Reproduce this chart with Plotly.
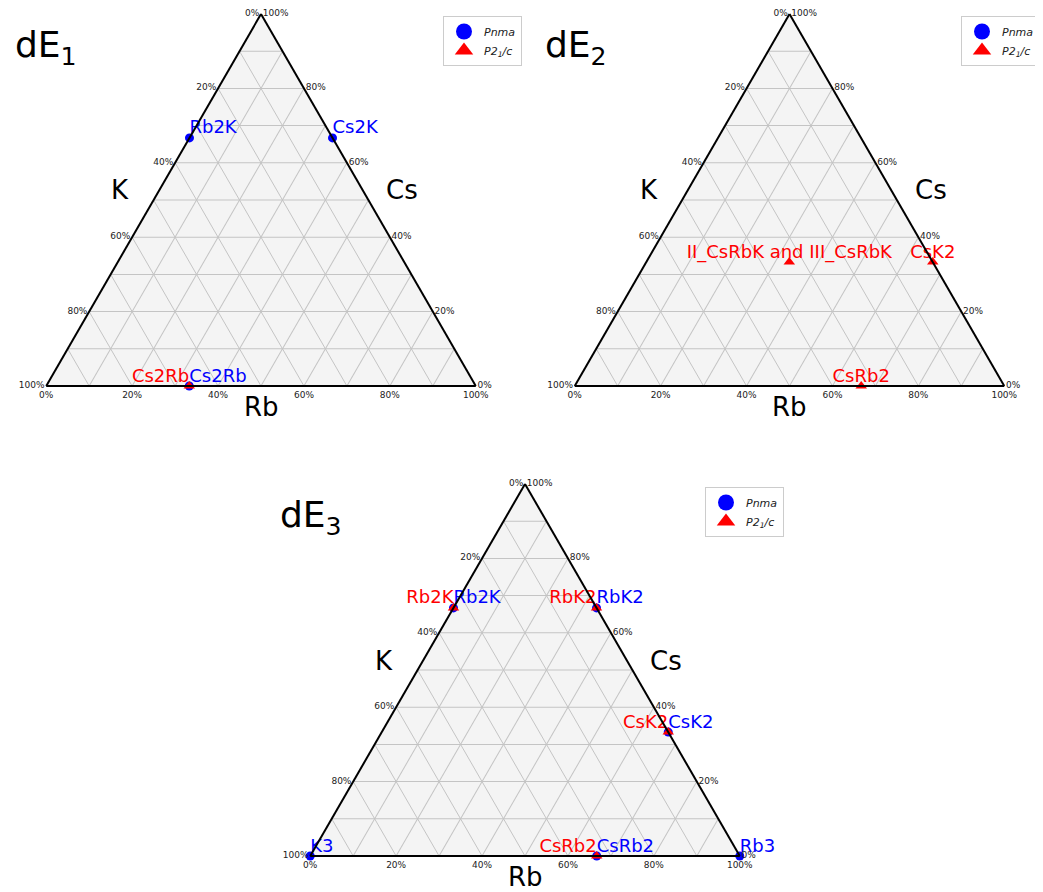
import plotly.graph_objects as go

FONT = "DejaVu Sans"

# ---------------- data (percent; a = Cs, b = K, c = Rb) ----------------
# dE1
de1_pnma_names = ["Rb2K", "Cs2K", "Cs2Rb"]
de1_pnma_cs = [66.7, 66.7, 0.0]
de1_pnma_k = [33.3, 0.0, 66.7]
de1_pnma_rb = [0.0, 33.3, 33.3]
de1_p21c_names = ["Cs2Rb"]
de1_p21c_cs = [0.0]
de1_p21c_k = [66.7]
de1_p21c_rb = [33.3]

# dE2
de2_pnma_names = []
de2_pnma_cs = []
de2_pnma_k = []
de2_pnma_rb = []
de2_p21c_names = ["II_CsRbK and III_CsRbK", "CsK2", "CsRb2"]
de2_p21c_cs = [33.3, 33.3, 0.0]
de2_p21c_k = [33.4, 0.0, 33.3]
de2_p21c_rb = [33.3, 66.7, 66.7]

# dE3
de3_pnma_names = ["Rb2K", "RbK2", "CsK2", "CsRb2", "K3", "Rb3"]
de3_pnma_cs = [66.7, 66.7, 33.3, 0.0, 0.0, 0.0]
de3_pnma_k = [33.3, 0.0, 0.0, 33.3, 100.0, 0.0]
de3_pnma_rb = [0.0, 33.3, 66.7, 66.7, 0.0, 100.0]
de3_p21c_names = ["Rb2K", "RbK2", "CsK2", "CsRb2"]
de3_p21c_cs = [66.7, 66.7, 33.3, 0.0]
de3_p21c_k = [33.3, 0.0, 0.0, 33.3]
de3_p21c_rb = [0.0, 33.3, 66.7, 66.7]

tick_vals = [0, 10, 20, 30, 40, 50, 60, 70, 80, 90, 100]
tick_text = ["100%", "", "80%", "", "60%", "", "40%", "", "20%", "", "0%"]

titles = ["dE<sub>1</sub>", "dE<sub>2</sub>", "dE<sub>3</sub>"]
axis_labels = ["K", "Cs", "Rb"]
series_pnma = ["Pnma"]
series_p21c = ["P2<sub>1</sub>/c"]

panels = [
    dict(pn=(de1_pnma_names, de1_pnma_cs, de1_pnma_k, de1_pnma_rb),
         pc=(de1_p21c_names, de1_p21c_cs, de1_p21c_k, de1_p21c_rb),
         red_pos="top left"),
    dict(pn=(de2_pnma_names, de2_pnma_cs, de2_pnma_k, de2_pnma_rb),
         pc=(de2_p21c_names, de2_p21c_cs, de2_p21c_k, de2_p21c_rb),
         red_pos="top center"),
    dict(pn=(de3_pnma_names, de3_pnma_cs, de3_pnma_k, de3_pnma_rb),
         pc=(de3_p21c_names, de3_p21c_cs, de3_p21c_k, de3_p21c_rb),
         red_pos="top left"),
]

subplots = ["ternary", "ternary2", "ternary3"]
legends = ["legend", "legend2", "legend3"]

fig = go.Figure()
for i, p in enumerate(panels):
    sp, lg = subplots[i], legends[i]
    # legend entries (no visible data)
    fig.add_trace(go.Scatterternary(a=[None], b=[None], c=[None], mode="markers",
                                    name=series_pnma[0],
                                    marker=dict(color="blue", size=16, symbol="circle"),
                                    subplot=sp, legend=lg, hoverinfo="skip"))
    fig.add_trace(go.Scatterternary(a=[None], b=[None], c=[None], mode="markers",
                                    name=series_p21c[0],
                                    marker=dict(color="red", size=16, symbol="triangle-up"),
                                    subplot=sp, legend=lg, hoverinfo="skip"))
    names, cs, k, rb = p["pn"]
    fig.add_trace(go.Scatterternary(a=cs, b=k, c=rb, mode="markers", showlegend=False,
                                    marker=dict(color="blue", size=9, symbol="circle"),
                                    cliponaxis=False, subplot=sp, hoverinfo="skip"))
    names2, cs2, k2, rb2 = p["pc"]
    fig.add_trace(go.Scatterternary(a=cs2, b=k2, c=rb2, mode="markers", showlegend=False,
                                    marker=dict(color="red", size=10, symbol="triangle-up"),
                                    cliponaxis=False, subplot=sp, hoverinfo="skip"))
    fig.add_trace(go.Scatterternary(a=cs2, b=k2, c=rb2, mode="text", text=names2,
                                    textposition=p["red_pos"], showlegend=False,
                                    textfont=dict(color="red", size=18, family=FONT),
                                    cliponaxis=False, subplot=sp, hoverinfo="skip"))
    fig.add_trace(go.Scatterternary(a=cs, b=k, c=rb, mode="text", text=names,
                                    textposition="top right", showlegend=False,
                                    textfont=dict(color="blue", size=18, family=FONT),
                                    cliponaxis=False, subplot=sp, hoverinfo="skip"))

# page has an 8px body margin: size the figure to the visible area
OFF = 8
W, H = 1043 - OFF, 892 - OFF

def px(x):
    return (x - OFF) / W

def py(y):
    return 1 - (y - OFF) / H

def axis():
    return dict(tickmode="array", tickvals=tick_vals, ticktext=tick_text,
                showgrid=True, gridcolor="#c4c4c4", gridwidth=0.7,
                showline=True, linecolor="black", linewidth=2, ticks="",
                tickfont=dict(size=9, color="#222222", family=FONT),
                title=dict(text=""))

def tern(xc, yc):
    th, tw = 372.0, 460.0
    return dict(sum=100, bgcolor="#f4f4f4",
                domain=dict(x=[px(xc - tw / 2), px(xc + tw / 2)],
                            y=[py(yc + th / 2), py(yc - th / 2)]),
                aaxis=axis(), baxis=axis(), caxis=axis())

layout = dict(
    width=W, height=H, margin=dict(l=0, r=0, t=0, b=0, autoexpand=False),
    paper_bgcolor="white", plot_bgcolor="white",
    font=dict(family=FONT),
    ternary=tern(261, 200),
    ternary2=tern(789.5, 200),
    ternary3=tern(525, 670),
)

leg_common = dict(bgcolor="white", bordercolor="#cccccc", borderwidth=1,
                  font=dict(size=11, family=FONT, style="italic", color="#222222"),
                  itemsizing="trace", itemwidth=30, yanchor="top", xanchor="left",
                  tracegroupgap=0)
layout["legend"] = dict(x=px(443), y=py(16), **leg_common)
layout["legend2"] = dict(x=px(961), y=py(16), **leg_common)
layout["legend3"] = dict(x=px(705), y=py(487), **leg_common)

ann = []
def lab(text, x, y, size, anchor="center"):
    ann.append(dict(text=text, x=px(x), y=py(y), xref="paper", yref="paper",
                    showarrow=False, xanchor=anchor, yanchor="middle",
                    font=dict(size=size, color="black", family=FONT)))

for cx, ymid, yrb, ti, tx, ty in [(261, 190, 407, titles[0], 13, 48),
                                   (789.5, 190, 407, titles[1], 543, 48),
                                   (525, 661, 877, titles[2], 278, 518)]:
    lab(axis_labels[0], cx - 141, ymid, 26)
    lab(axis_labels[1], cx + 141, ymid, 26)
    lab(axis_labels[2], cx, yrb, 26)
    lab(ti, tx, ty, 36, anchor="left")

layout["annotations"] = ann
fig.update_layout(**layout)
fig.write_html("out.html")
